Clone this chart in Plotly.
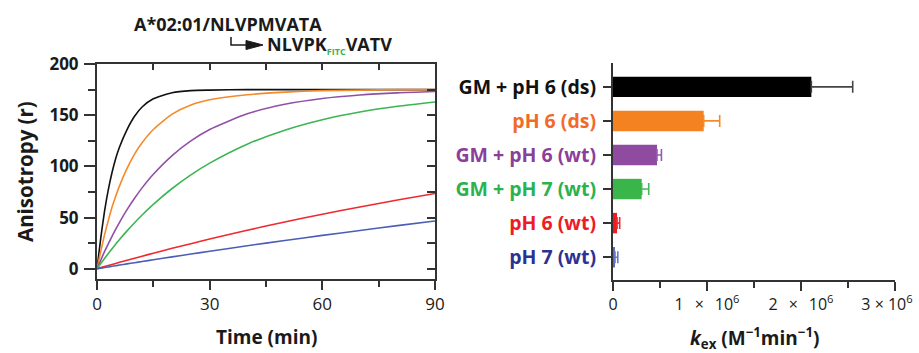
import plotly.graph_objects as go

W, H = 919, 353

# ---------------- data ----------------
time_min = [0, 1, 2, 3, 4, 5, 6, 8, 10, 12, 15, 20, 25, 30, 40, 50, 60, 70, 80, 90]
r_gm_ph6_ds = [0, 30, 56, 77, 94, 108, 119, 136, 149, 158, 166, 172, 174, 174.5, 175, 175, 175, 175, 175, 175]
r_ph6_ds = [0, 17, 33, 47, 60, 71, 81, 98, 112, 123, 136, 151, 160, 165, 170, 172.5, 174, 174.5, 175, 175]
r_gm_ph6_wt = [0, 8.5, 16.7, 24.4, 31.7, 38.7, 45.4, 57.7, 68.8, 79, 92.3, 110.6, 124.9, 136, 151.3, 160.6, 166.3, 169.7, 171.8, 173.1]
r_gm_ph7_wt = [0, 5.1, 10.1, 14.9, 19.6, 24.1, 28.6, 37, 45, 52.5, 62.9, 78.4, 91.7, 103.2, 121.7, 135.4, 145.6, 153.1, 158.7, 162.9]
r_ph6_wt = [0, 1.1, 2.1, 3.2, 4.2, 5.2, 6.3, 8.3, 10.3, 12.3, 15.2, 20, 24.5, 29, 37.6, 45.7, 53.3, 60.4, 67.1, 73.5]
r_ph7_wt = [0, 0.6, 1.2, 1.8, 2.4, 3.0, 3.6, 4.8, 5.9, 7.1, 8.8, 11.6, 14.4, 17.1, 22.5, 27.6, 32.6, 37.4, 42.1, 46.6]

conditions = ["GM + pH 6 (ds)", "pH 6 (ds)", "GM + pH 6 (wt)", "GM + pH 7 (wt)", "pH 6 (wt)", "pH 7 (wt)"]
kex = [2.11e6, 0.965e6, 0.468e6, 0.305e6, 0.043e6, 0.021e6]
kex_err = [0.44e6, 0.17e6, 0.047e6, 0.075e6, 0.028e6, 0.03e6]

x_tickvals_k = [0, 1e6, 2e6, 3e6]
SP = '<span style="font-size:11px">\u2003</span>'
TRAIL = '<span style="font-size:16px">\u2003</span>'
x_ticktext_k = ["0", f"1{SP}×{SP}10<sup>6</sup>", f"2{SP}×{SP}10<sup>6</sup>", f"3 × 10<sup>6</sup>{TRAIL}"]

line_colors = ["#111111", "#f58a2a", "#9150a6", "#3db552", "#ee2a2f", "#4a5fb5"]
bar_colors = ["#000000", "#f58220", "#8e4ba0", "#39b54a", "#ed1c24", "#5a6cc0"]
err_colors = ["#444444", "#f58a2a", "#9a5aae", "#47b85a", "#ee2a2f", "#6878c6"]
label_colors = ["#111111", "#f26a2a", "#8b3f99", "#2bb24c", "#ed1c24", "#2e3192"]

FONT = "Open Sans"
AX = "#333333"

fig = go.Figure()

series = [r_gm_ph6_ds, r_ph6_ds, r_gm_ph6_wt, r_gm_ph7_wt, r_ph6_wt, r_ph7_wt]
for name, ys, c in zip(conditions, series, line_colors):
    fig.add_trace(go.Scatter(x=time_min, y=ys, mode="lines", name=name,
                             line=dict(color=c, width=1.6, shape="spline", smoothing=0.6),
                             xaxis="x", yaxis="y", showlegend=False, hoverinfo="skip"))

for i, (cat, v, e) in enumerate(zip(conditions, kex, kex_err)):
    fig.add_trace(go.Bar(x=[v], y=[cat], orientation="h", width=0.6,
                         marker=dict(color=bar_colors[i], line=dict(width=0)),
                         error_x=dict(type="data", array=[e], arrayminus=[0], symmetric=False,
                                      color=err_colors[i], thickness=1.6, width=6),
                         xaxis="x2", yaxis="y2", showlegend=False, hoverinfo="skip"))

# empty traces so the mirror axes render
fig.add_trace(go.Scatter(x=[], y=[], xaxis="x3", yaxis="y", showlegend=False))
fig.add_trace(go.Scatter(x=[], y=[], xaxis="x", yaxis="y3", showlegend=False))


def px_x(p):
    return p / W


def px_y(p):
    return 1 - p / H


ldom_x = [px_x(97), px_x(435)]
ldom_y = [px_y(279), px_y(64)]
rdom_x = [px_x(613), px_x(895)]
rdom_y = [px_y(280), px_y(63)]

common = dict(showgrid=False, zeroline=False, showline=True, linecolor=AX, linewidth=2,
              tickcolor=AX, tickwidth=2, automargin=False)

fig.update_layout(
    width=W, height=H, margin=dict(l=0, r=0, t=0, b=0, autoexpand=False),
    paper_bgcolor="white", plot_bgcolor="white", barmode="overlay",
    font=dict(family=FONT, color="#1a1a1a"),
    xaxis=dict(domain=ldom_x, range=[0, 90], anchor="y", ticks="outside", ticklen=9,
               tickvals=[0, 30, 60, 90], tickfont=dict(size=17, family=FONT, color="#1a1a1a"),
               minor=dict(dtick=15, tick0=0, ticks="outside", ticklen=6, tickwidth=2, tickcolor=AX),
               **common),
    yaxis=dict(domain=ldom_y, range=[-10, 200], anchor="x", ticks="outside", ticklen=11,
               tickvals=[0, 50, 100, 150, 200], ticklabelstandoff=2,
               tickfont=dict(size=17, family=FONT, color="#1a1a1a", weight="bold"),
               minor=dict(dtick=25, tick0=0, ticks="outside", ticklen=7, tickwidth=2, tickcolor=AX),
               **common),
    xaxis3=dict(overlaying="x", side="top", anchor="y", range=[0, 90], ticks="inside", ticklen=6,
                dtick=15, tick0=0, showticklabels=False, **common),
    yaxis3=dict(overlaying="y", side="right", anchor="x", range=[-10, 200], ticks="inside", ticklen=8,
                dtick=25, tick0=0, showticklabels=False, **common),
    xaxis2=dict(domain=rdom_x, range=[0, 3e6], anchor="y2", ticks="outside", ticklen=9,
                tickvals=x_tickvals_k, ticktext=x_ticktext_k, ticklabeloverflow="allow",
                tickfont=dict(size=16, family=FONT, color="#1a1a1a"),
                minor=dict(dtick=5e5, tick0=0, ticks="outside", ticklen=6, tickwidth=2, tickcolor=AX),
                **common),
    yaxis2=dict(domain=rdom_y, type="category", range=[5.67, -0.7], anchor="x2",
                ticks="outside", ticklen=8, tickvals=conditions,
                ticktext=[f'<span style="color:{c}">{t}</span>' for t, c in zip(conditions, label_colors)],
                tickfont=dict(size=19.5, family=FONT, weight="bold"), ticklabelstandoff=3,
                **common),
)

ann_font = dict(family=FONT, size=18, color="#1a1a1a", weight="bold")


def ann(text, x, y, xanchor="center", **kw):
    fig.add_annotation(text=text, x=px_x(x), y=px_y(y), xref="paper", yref="paper",
                       xanchor=xanchor, yanchor="middle", showarrow=False, **kw)


ann("Anisotropy (r)", 25, 172, textangle=-90, font=dict(ann_font, size=20.5))
ann("Time (min)", 266, 337, font=dict(ann_font, size=19))
ann("<i>k</i><sub>ex</sub> (M<sup>−1</sup>min<sup>−1</sup>)", 754, 338, font=dict(ann_font, size=19))
ann("A*02:01/NLVPMVATA", 228, 24, font=ann_font)
ann('NLVPK<sub><span style="color:#39b54a;font-size:9px">FITC</span></sub>VATV', 265, 45,
    xanchor="left", font=ann_font)

# hooked arrow
fig.add_shape(type="path", xref="paper", yref="paper",
              path=f"M {px_x(231)} {px_y(37)} L {px_x(231)} {px_y(45)} L {px_x(248)} {px_y(45)}",
              line=dict(color="#1a1a1a", width=1.5))
fig.add_shape(type="path", xref="paper", yref="paper",
              path=f"M {px_x(246)} {px_y(40.5)} L {px_x(263)} {px_y(45)} L {px_x(246)} {px_y(49.5)} Z",
              fillcolor="#1a1a1a", line=dict(color="#1a1a1a", width=1))

fig.write_html("out.html", config={"displayModeBar": False},
               post_script="document.body.style.margin='0';document.body.style.padding='0';")
